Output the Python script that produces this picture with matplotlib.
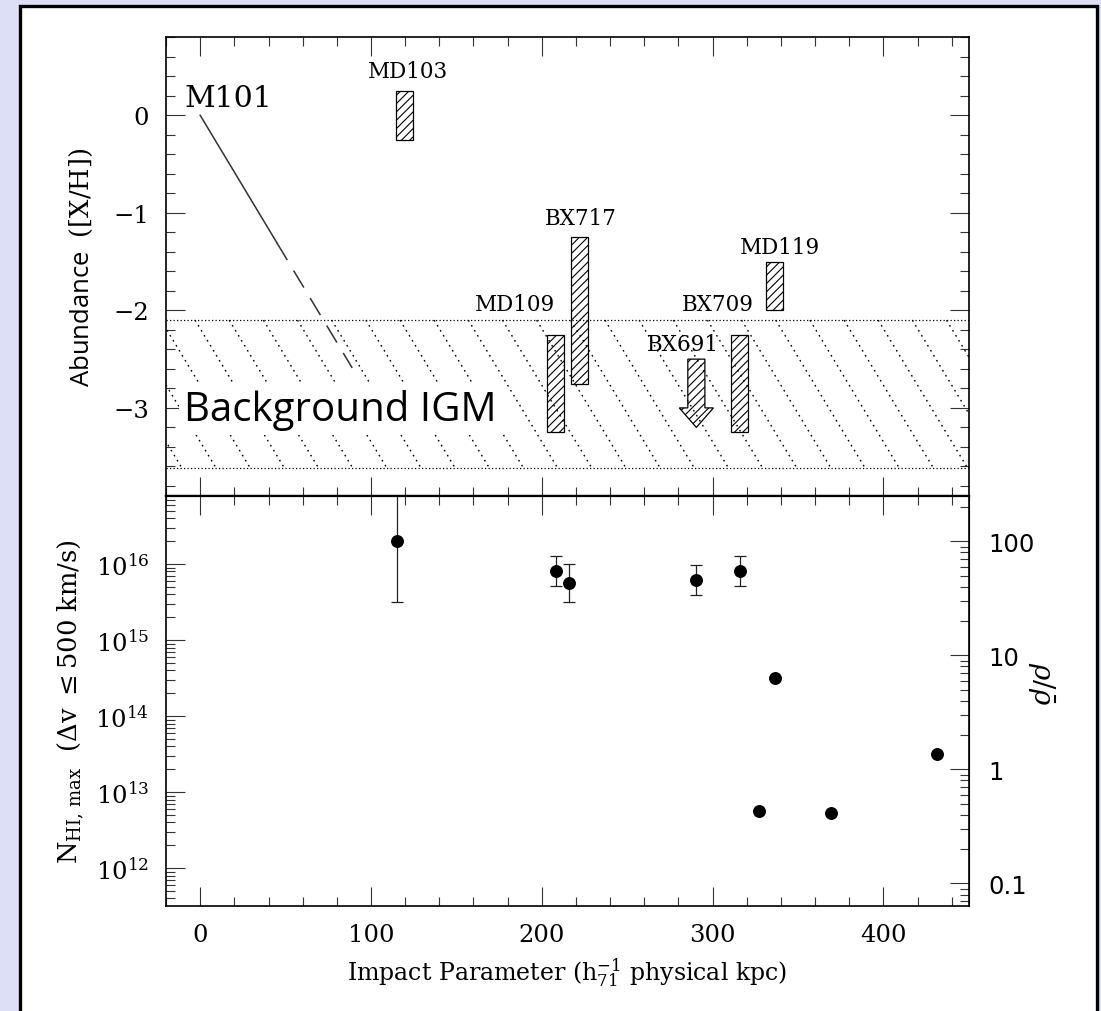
import numpy as np
import matplotlib
matplotlib.use("Agg")
import matplotlib.pyplot as plt
from matplotlib import patches, ticker
from matplotlib.collections import LineCollection

# metallicity of the absorbers: impact parameter (kpc) and [X/H] range
box_names = ["MD103", "MD109", "BX717", "BX709", "MD119"]
box_x = [119.5, 208.3, 222.3, 315.5, 336.4]
box_lo = [-0.25, -3.25, -2.75, -3.25, -2.0]
box_hi = [0.25, -2.25, -1.25, -2.25, -1.5]

# BX691 only has an upper limit
limit_name = "BX691"
limit_x = 290.5
limit_top = -2.5
limit_tip = -3.2

# M101 abundance gradient, measured part and extrapolation
m101_x = [0, 45]
m101_y = [0, -1.31]
m101_ext_x = [45, 89]
m101_ext_y = [-1.31, -2.59]

# background IGM metallicity range
igm_lo = -3.62
igm_hi = -2.1

# max HI column within 500 km/s of each galaxy
nhi_x = [115.4, 208.3, 216.2, 290.4, 316.3, 327.3, 336.3, 369.3, 431.4]
nhi = [2.0e16, 8.1e15, 5.6e15, 6.2e15, 8.0e15, 5.7e12, 3.2e14, 5.3e12, 3.2e13]
# only the first five have error bars
nhi_err_lo = [3.2e15, 5.1e15, 3.2e15, 3.9e15, 5.1e15]
nhi_err_hi = [1.0e17, 1.26e16, 1.0e16, 9.8e15, 1.26e16]

# where the galaxy names go (x, baseline y)
label_pos = {
    "MD103": (121.7, 0.39),
    "MD109": (184.4, -2.0),
    "BX717": (223.0, -1.11),
    "BX691": (282.6, -2.41),
    "BX709": (303.2, -2.0),
    "MD119": (339.4, -1.41),
}

BOX_W = 10.0
HATCH_SLOPE = 0.029
HATCH_STEP = 20.0
INK = "#333333"


def to_rho(n):
    with np.errstate(divide="ignore", invalid="ignore"):
        return 10 ** ((np.log10(n) - 13.3) / 1.5)


def to_nhi(r):
    with np.errstate(divide="ignore", invalid="ignore"):
        return 10 ** (1.5 * np.log10(r) + 13.3)


def style_ticks(ax, **kw):
    ax.tick_params(which="both", direction="in", color=INK, width=0.8,
                   labelsize=17.5, pad=12, **kw)
    ax.tick_params(which="major", length=13.5)
    ax.tick_params(which="minor", length=6.7)


plt.rcParams["font.family"] = ["DejaVu Serif"]
plt.rcParams["mathtext.fontset"] = "dejavuserif"
plt.rcParams["hatch.linewidth"] = 0.8

fig = plt.figure(figsize=(11.01, 10.12), dpi=100)
fig.patch.set_facecolor("#dcdff6")
fig.add_artist(patches.Rectangle((19.5 / 1101, -0.05), 1077 / 1101, 1.05 - 6.6 / 1012,
                                 transform=fig.transFigure, facecolor="white",
                                 edgecolor="black", lw=2.4, zorder=-10))

ax1 = fig.add_axes([0.1508, 0.5092, 0.7291, 0.4530])
ax2 = fig.add_axes([0.1508, 0.1035, 0.7291, 0.4057], sharex=ax1)

# ---- top panel: abundances
ax1.set_xlim(-20, 450)
ax1.set_ylim(-3.9, 0.8)

band = patches.Rectangle((-20, igm_lo), 470, igm_hi - igm_lo, fill=False, lw=0)
ax1.add_patch(band)
for yb in (igm_lo, igm_hi):
    ax1.axhline(yb, color="black", lw=0.9, ls=(0, (1, 1.8)))
drop = (igm_hi - igm_lo) / HATCH_SLOPE
segs = [[(x0, igm_hi), (x0 + drop, igm_lo)] for x0 in np.arange(-83, 460, HATCH_STEP)]
lc = LineCollection(segs, colors="black", linewidths=1.0, linestyles=[(0, (1.2, 3.0))])
lc.set_clip_path(band)
ax1.add_collection(lc)

ax1.text(-9.3, -3.12, "Background IGM", family="Open Sans", fontsize=29,
         ha="left", va="baseline", zorder=3,
         bbox=dict(facecolor="white", edgecolor="none", pad=4))

ax1.plot(m101_x, m101_y, color=INK, lw=1.1, zorder=4)
ax1.plot(m101_ext_x, m101_ext_y, color=INK, lw=1.1, ls=(0, (13, 8)), zorder=4)
ax1.text(-9.3, 0.1, "M101", fontsize=21.5, ha="left", va="baseline")

for x, lo, hi in zip(box_x, box_lo, box_hi):
    ax1.add_patch(patches.Rectangle((x - BOX_W / 2, lo), BOX_W, hi - lo, fill=False,
                                    hatch="////", edgecolor="black", lw=0.9, zorder=5))
ax1.add_patch(patches.FancyArrow(limit_x, limit_top, 0, limit_tip - limit_top,
                                 width=BOX_W, head_width=2 * BOX_W, head_length=0.2,
                                 length_includes_head=True, fill=False, hatch="////",
                                 edgecolor="black", lw=0.9, zorder=5))
for name in box_names + [limit_name]:
    lx, ly = label_pos[name]
    ax1.text(lx, ly, name, fontsize=15.5, ha="center", va="baseline", zorder=6)

ax1.xaxis.set_major_locator(ticker.MultipleLocator(100))
ax1.xaxis.set_minor_locator(ticker.MultipleLocator(20))
ax1.yaxis.set_major_locator(ticker.MultipleLocator(1))
ax1.yaxis.set_minor_locator(ticker.MultipleLocator(0.2))
style_ticks(ax1, top=True, right=True, bottom=True, left=True)
ax1.tick_params(labelbottom=False)
ax1.set_ylabel(r"Abundance  $\mathrm{([X/H])}$", family="Open Sans", fontsize=18.5)
ax1.yaxis.set_label_coords(-0.088, 0.5)

# ---- bottom panel: HI column
ax2.set_yscale("log")
ax2.set_ylim(10 ** 11.5, 10 ** 16.9)
n5 = np.array(nhi[:5])
ax2.errorbar(nhi_x[:5], n5, yerr=[n5 - np.array(nhi_err_lo), np.array(nhi_err_hi) - n5],
             fmt="none", ecolor="#222222", elinewidth=0.9, capsize=4.3, capthick=0.9)
ax2.plot(nhi_x, nhi, "o", color="black", ms=8.3, zorder=5)

style_ticks(ax2, top=True, right=False, bottom=True, left=True)
ax2.yaxis.set_major_locator(ticker.LogLocator(base=10, numticks=20))
ax2.yaxis.set_minor_locator(ticker.LogLocator(base=10, subs=np.arange(2, 10), numticks=20))
ax2.yaxis.set_minor_formatter(ticker.NullFormatter())

sec = ax2.secondary_yaxis("right", functions=(to_rho, to_nhi))
sec.yaxis.set_major_locator(ticker.FixedLocator([0.1, 1, 10, 100]))
sec.yaxis.set_major_formatter(ticker.FuncFormatter(lambda v, _: f"{v:g}"))
sec.yaxis.set_minor_locator(ticker.LogLocator(base=10, subs=np.arange(2, 10), numticks=20))
sec.yaxis.set_minor_formatter(ticker.NullFormatter())
sec.tick_params(which="both", direction="in", color=INK, width=0.8, labelsize=17.5, pad=14)
sec.tick_params(which="major", length=13.5)
sec.tick_params(which="minor", length=6.7)
for lab in sec.get_yticklabels():
    lab.set_family("DejaVu Sans")
sec.set_ylabel(r"$\rho/\bar{\rho}$", fontsize=20)
sec.yaxis.label.set(rotation=-90, rotation_mode="default", va="center", ha="center")
sec.yaxis.set_label_coords(1.091, 0.544, transform=ax2.transAxes)

ax2.set_ylabel(r"$\mathrm{N_{HI,\,max}}\ \ (\Delta\mathrm{v}\ \leq 500\ \mathrm{km/s})$", fontsize=18.5)
ax2.yaxis.set_label_coords(-0.10, 0.5)
ax2.set_xlabel(r"Impact Parameter ($\mathrm{h_{71}^{-1}}$ physical kpc)", fontsize=17)
ax2.xaxis.set_label_coords(0.5, -0.118)

for ax in (ax1, ax2):
    for sp in ax.spines.values():
        sp.set_linewidth(1.2)
ax1.spines["bottom"].set_linewidth(1.6)
ax2.spines["top"].set_linewidth(1.6)

fig.savefig("out.png", dpi=100, facecolor=fig.get_facecolor())
